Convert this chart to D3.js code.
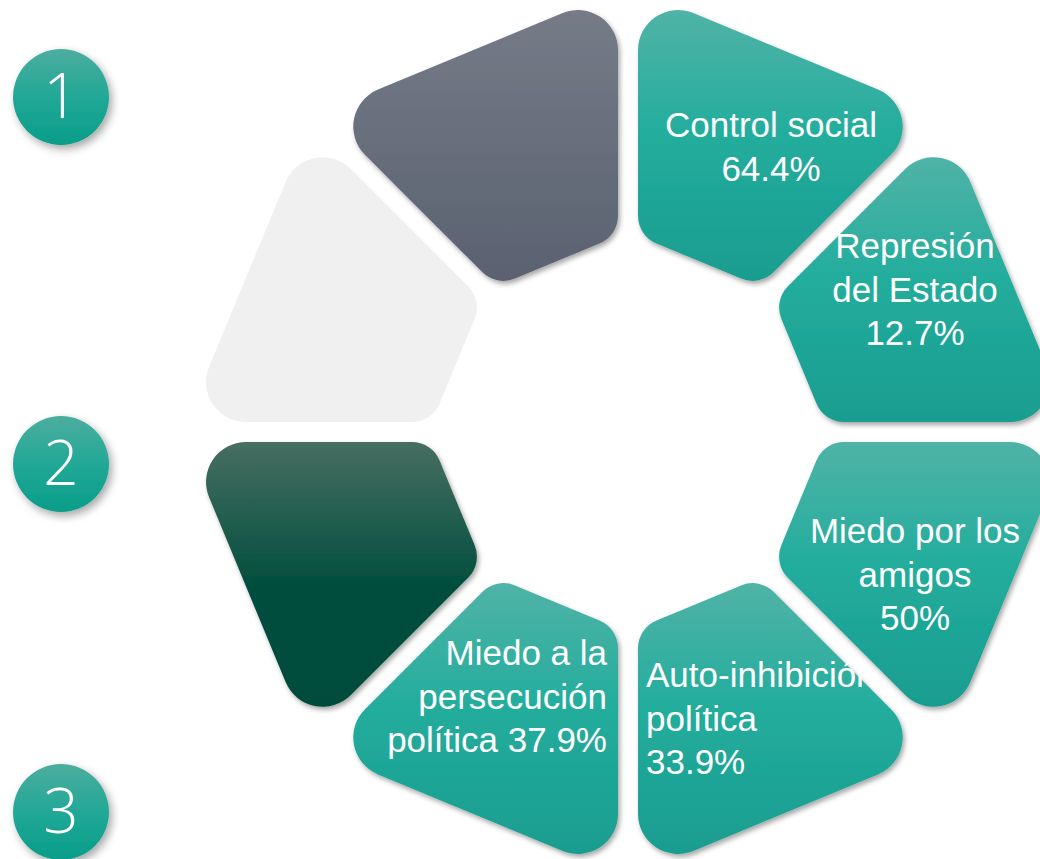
<!DOCTYPE html>
<html>
<head>
<meta charset="utf-8">
<script src="https://cdn.jsdelivr.net/npm/d3@7"></script>
<style>
  html, body { margin: 0; padding: 0; background: #ffffff; }
  svg { display: block; }
</style>
</head>
<body>
<div id="chart"></div>
<script>
const width = 1040;
const height = 859;

// ring of 8 sectors, clockwise from the top-left one
const sectorKinds = ["gray", "teal", "teal", "teal", "teal", "teal", "green", "light"];

const labelLines = [
    ["Control social"],
    ["Represión", "del Estado"],
    ["Miedo por los", "amigos"],
    ["Auto-inhibición", "política"],
    ["Miedo a la", "persecución", "política"],
];
const values = [64.4, 12.7, 50, 33.9, 37.9];
const valueInline = [false, false, false, false, true];

const steps = ["1", "2", "3"];

// layout
const cx = 628, cy = 432;
const outerApothem = 412, innerApothem = 185, halfGap = 10;
const rOuterCorner = 40, rInnerCorner = 30;
const fontSize = 35, lineHeight = 43.5;

// label anchor per labelled sector: [x, first baseline, anchor]
const labelPos = [
    [771, 137, "middle"],
    [915, 258, "middle"],
    [915, 543, "middle"],
    [646, 687, "start"],
    [607, 665, "end"],
];

// step 2 sits a little above halfway in the source
const stepCenters = { "1": 97, "2": 464, "3": 812 };

const svg = d3.select("#chart").append("svg")
    .attr("width", width)
    .attr("height", height)
    .attr("viewBox", [0, 0, width, height]);

const defs = svg.append("defs");

function addGradient(id, stops) {
    const g = defs.append("linearGradient")
        .attr("id", id)
        .attr("x1", 0).attr("y1", 0).attr("x2", 0).attr("y2", 1);
    g.selectAll("stop").data(stops).join("stop")
        .attr("offset", (d) => d[0])
        .attr("stop-color", (d) => d[1]);
}

addGradient("g-teal", [[0, "#50b3a7"], [0.45, "#23ad9d"], [1, "#199d90"]]);
addGradient("g-gray", [[0, "#757b87"], [1, "#5a6170"]]);
addGradient("g-green", [[0, "#476e61"], [0.55, "#014e3d"], [1, "#004c3b"]]);
addGradient("g-light", [[0, "#f0f0f0"], [1, "#f0f0f0"]]);
addGradient("g-circle", [[0, "#4cad9f"], [0.5, "#22a897"], [1, "#079d89"]]);

const shadow = defs.append("filter").attr("id", "shadow")
    .attr("x", "-10%").attr("y", "-10%").attr("width", "125%").attr("height", "125%");
shadow.append("feDropShadow")
    .attr("dx", 2).attr("dy", 3).attr("stdDeviation", 2.5)
    .attr("flood-color", "#000").attr("flood-opacity", 0.35);

const shadowSoft = defs.append("filter").attr("id", "shadow-soft")
    .attr("x", "-30%").attr("y", "-30%").attr("width", "170%").attr("height", "170%");
shadowSoft.append("feDropShadow")
    .attr("dx", 3).attr("dy", 4).attr("stdDeviation", 4)
    .attr("flood-color", "#000").attr("flood-opacity", 0.35);

const angle = d3.scaleLinear().domain([0, sectorKinds.length]).range([-Math.PI / 4, 7 * Math.PI / 4]);

const unit = (a) => [Math.sin(a), -Math.cos(a)];

// intersection of p·a = c1 and p·b = c2
function meet(a, c1, b, c2) {
    const det = a[0] * b[1] - a[1] * b[0];
    return [(c1 * b[1] - a[1] * c2) / det, (a[0] * c2 - c1 * b[0]) / det];
}

function sectorPath(i) {
    const a0 = angle(i), a1 = angle(i + 1);
    const n = unit((a0 + a1) / 2);
    const q0 = [Math.cos(a0), Math.sin(a0)];
    const q1 = [-Math.cos(a1), -Math.sin(a1)];
    const pts = [
        [meet(n, outerApothem, q0, halfGap), rOuterCorner],
        [meet(n, outerApothem, q1, halfGap), rOuterCorner],
        [meet(n, innerApothem, q1, halfGap), rInnerCorner],
        [meet(n, innerApothem, q0, halfGap), rInnerCorner],
    ];
    const p = d3.path();
    const last = pts[pts.length - 1][0], first = pts[0][0];
    p.moveTo(cx + (last[0] + first[0]) / 2, cy + (last[1] + first[1]) / 2);
    pts.forEach((d, k) => {
        const v = d[0], nx = pts[(k + 1) % pts.length][0];
        p.arcTo(cx + v[0], cy + v[1], cx + nx[0], cy + nx[1], d[1]);
    });
    p.closePath();
    return p.toString();
}

svg.append("g")
    .selectAll("path")
    .data(sectorKinds.map((kind, i) => ({ kind, i })))
    .join("path")
    .attr("d", (d) => sectorPath(d.i))
    .attr("fill", (d) => `url(#g-${d.kind})`)
    .attr("filter", (d) => d.kind === "light" ? null : "url(#shadow)");

// labels
const labels = svg.append("g")
    .attr("font-family", "'Liberation Sans', Arial, sans-serif")
    .attr("font-size", fontSize)
    .attr("fill", "#ffffff")
    .selectAll("text")
    .data(labelLines.map((lines, i) => {
        const all = lines.slice();
        const v = `${values[i]}%`;
        if (valueInline[i]) all[all.length - 1] += " " + v;
        else all.push(v);
        return { lines: all, pos: labelPos[i] };
    }))
    .join("text")
    .attr("text-anchor", (d) => d.pos[2]);

labels.selectAll("tspan")
    .data((d) => d.lines.map((t, k) => ({ t, k, pos: d.pos })))
    .join("tspan")
    .attr("x", (d) => d.pos[0])
    .attr("y", (d) => d.pos[1] + d.k * lineHeight)
    .text((d) => d.t);

// numbered circles on the left
const badge = svg.append("g")
    .selectAll("g")
    .data(steps)
    .join("g")
    .attr("transform", (d) => `translate(61, ${stepCenters[d]})`);

badge.append("circle")
    .attr("r", 48)
    .attr("fill", "url(#g-circle)")
    .attr("filter", "url(#shadow-soft)");

badge.append("text")
    .attr("text-anchor", "middle")
    .attr("y", 21)
    .attr("font-family", "'Open Sans', 'Noto Sans', sans-serif")
    .attr("font-weight", 300)
    .attr("font-size", 62)
    .attr("fill", "#ffffff")
    .text((d) => d);
</script>
</body>
</html>
